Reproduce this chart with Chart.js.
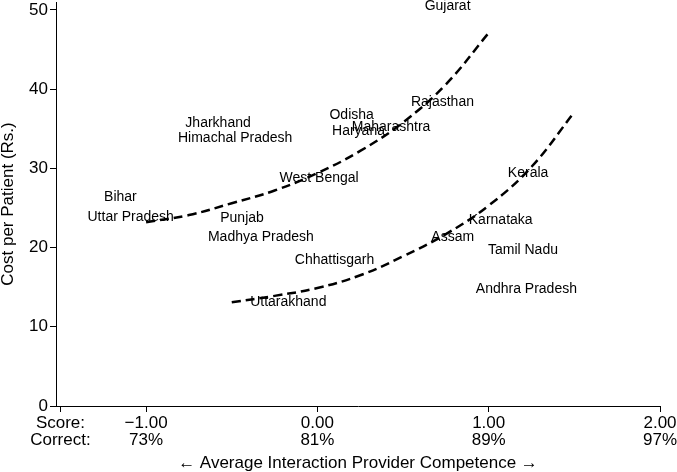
<!DOCTYPE html>
<html>
<head>
<meta charset="utf-8">
<script src="https://cdn.jsdelivr.net/npm/chart.js@4"></script>
<style>
  html, body { margin: 0; padding: 0; background: #fff; }
  #wrap { width: 677px; height: 472px; }
</style>
</head>
<body>
<div id="wrap"><canvas id="costChart" width="677" height="472"></canvas></div>
<script>
// States: competence score (x) and cost per patient (y)
const states = ['Gujarat', 'Rajasthan', 'Odisha', 'Maharashtra', 'Haryana', 'Jharkhand',
  'Himachal Pradesh', 'West Bengal', 'Kerala', 'Bihar', 'Uttar Pradesh', 'Punjab',
  'Karnataka', 'Madhya Pradesh', 'Assam', 'Tamil Nadu', 'Chhattisgarh',
  'Andhra Pradesh', 'Uttarakhand'];
const scoreX = [0.76, 0.73, 0.20, 0.43, 0.24, -0.58, -0.48, 0.01, 1.23, -1.15, -1.09, -0.44,
  1.07, -0.33, 0.79, 1.20, 0.10, 1.22, -0.17];
const costY = [50.5, 38.4, 36.7, 35.2, 34.7, 35.7, 33.8, 28.8, 29.4, 26.4, 23.9, 23.7,
  23.4, 21.3, 21.3, 19.7, 18.4, 14.8, 13.1];

// Fitted curves
const upperX = [-1.0, -0.75, -0.5, -0.25, 0, 0.25, 0.5, 0.75, 1.0];
const upperY = [23.2, 24.1, 25.6, 27.2, 29.4, 32.2, 35.8, 40.6, 47.1];
const lowerX = [-0.5, -0.25, 0, 0.25, 0.5, 0.75, 1.0, 1.25, 1.5];
const lowerY = [13.1, 13.9, 14.9, 16.5, 18.9, 21.7, 25.3, 30.2, 37.1];

// X axis tick labels (score / percent correct)
const tickValues = [-1.5, -1, 0, 1, 2];
const scoreLabels = ['Score:', '\u22121.00', '0.00', '1.00', '2.00'];
const correctLabels = ['Correct:', '73%', '81%', '89%', '97%'];
const yTicks = [0, 10, 20, 30, 40, 50];

const FONT = "'Liberation Sans', Arial, Helvetica, sans-serif";

// Draw state names centred on their points
const stateLabels = {
  id: 'stateLabels',
  afterDatasetsDraw(chart) {
    const meta = chart.getDatasetMeta(0);
    const ctx = chart.ctx;
    ctx.save();
    ctx.fillStyle = '#000';
    ctx.font = '14px ' + FONT;
    ctx.textAlign = 'center';
    ctx.textBaseline = 'middle';
    meta.data.forEach(function(pt, i) {
      ctx.fillText(states[i], pt.x, pt.y);
    });
    ctx.restore();
  }
};

function curveData(xs, ys) {
  return xs.map(function(x, i) { return { x: x, y: ys[i] }; });
}

// no extra padding from tick labels, the box sizes are fixed
function noPad(scale) {
  scale.paddingTop = 0;
  scale.paddingBottom = 0;
  scale.paddingLeft = 0;
  scale.paddingRight = 0;
}

const curveStyle = {
  type: 'line',
  showLine: true,
  borderColor: '#000',
  borderWidth: 2.5,
  borderDash: [9, 5],
  pointRadius: 0,
  fill: false,
  tension: 0.4
};

new Chart(document.getElementById('costChart'), {
  type: 'scatter',
  data: {
    datasets: [
      {
        data: curveData(scoreX, costY),
        pointRadius: 0,
        showLine: false
      },
      Object.assign({ data: curveData(upperX, upperY) }, curveStyle),
      Object.assign({ data: curveData(lowerX, lowerY) }, curveStyle)
    ]
  },
  options: {
    responsive: false,
    animation: false,
    layout: { padding: { left: 0, right: 17, top: 2, bottom: 0 } },
    plugins: {
      legend: { display: false },
      tooltip: { enabled: false }
    },
    scales: {
      x: {
        type: 'linear',
        min: -1.526,
        max: 2.0,
        afterBuildTicks: function(scale) {
          scale.ticks = tickValues.map(function(v) { return { value: v }; });
        },
        afterFit: function(scale) { scale.height = 66; noPad(scale); },
        grid: {
          drawOnChartArea: false,
          drawTicks: true,
          tickLength: 6,
          color: '#000'
        },
        border: { display: true, color: '#000', width: 1 },
        ticks: {
          autoSkip: false,
          maxRotation: 0,
          padding: 3,
          color: '#000',
          font: { family: FONT, size: 17, lineHeight: 1.0 },
          callback: function(value) {
            const i = tickValues.indexOf(value);
            return i < 0 ? '' : [scoreLabels[i], correctLabels[i]];
          }
        },
        title: {
          display: true,
          text: '\u2190 Average Interaction Provider Competence \u2192',
          color: '#000',
          font: { family: FONT, size: 17, lineHeight: 1.0 },
          padding: { top: 0, bottom: 0 }
        }
      },
      y: {
        type: 'linear',
        min: 0,
        max: 51,
        afterBuildTicks: function(scale) {
          scale.ticks = yTicks.map(function(v) { return { value: v }; });
        },
        afterFit: function(scale) { scale.width = 56; noPad(scale); },
        grid: {
          drawOnChartArea: false,
          drawTicks: true,
          tickLength: 6,
          color: '#000'
        },
        border: { display: true, color: '#000', width: 1 },
        ticks: {
          padding: 2,
          color: '#000',
          font: { family: FONT, size: 17 }
        },
        title: {
          display: true,
          text: 'Cost per Patient (Rs.)',
          color: '#000',
          font: { family: FONT, size: 17, lineHeight: 1.0 },
          padding: { top: 0, bottom: 0 }
        }
      }
    }
  },
  plugins: [stateLabels]
});
</script>
</body>
</html>
